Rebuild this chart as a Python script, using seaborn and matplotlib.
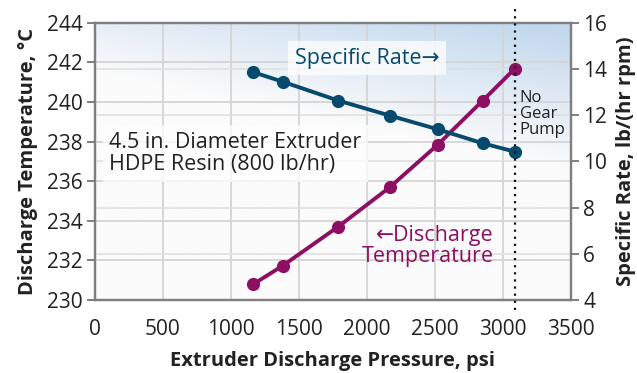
import numpy as np
import pandas as pd
import matplotlib
matplotlib.use("Agg")
import matplotlib.pyplot as plt
import seaborn as sns
from matplotlib.colors import LinearSegmentedColormap

# -----------------------------
# Data
# -----------------------------
pressure = [1164, 1380, 1790, 2169, 2520, 2853, 3087]
discharge_temp = [230.79, 231.72, 233.70, 235.69, 237.83, 240.07, 241.67]
specific_rate = [13.86, 13.45, 12.63, 11.98, 11.39, 10.78, 10.42]
no_gear_pump_x = 3087

x_ticks = [0, 500, 1000, 1500, 2000, 2500, 3000, 3500]
temp_ticks = [230, 232, 234, 236, 238, 240, 242, 244]
rate_ticks = [4, 6, 8, 10, 12, 14, 16]

df = pd.DataFrame({
    "Pressure": pressure,
    "Temperature": discharge_temp,
    "Rate": specific_rate,
})

BLUE = "#074a6e"
PURPLE = "#8c0f63"
TXT = "#222222"

sns.set_style("white")
plt.rcParams["font.family"] = ["Open Sans", "DejaVu Sans"]

fig = plt.figure(figsize=(6.37, 3.73), dpi=100)
ax = fig.add_axes([0.149, 0.196, 0.747, 0.743])
ax2 = ax.twinx()

ax.set_xlim(0, 3500)
ax.set_ylim(230, 244)
ax2.set_ylim(4, 16)

# -----------------------------
# Background gradient
# -----------------------------
gx, gy = np.meshgrid(np.linspace(0, 1, 200), np.linspace(0, 1, 200))
grad = np.clip((gy - (0.82 - 0.35 * gx)) / 0.5, 0, 1)
cmap = LinearSegmentedColormap.from_list("bg", ["#fbfbfb", "#c2d8ee"])
ax.imshow(grad, extent=[0, 1, 0, 1], transform=ax.transAxes, origin="lower",
          cmap=cmap, aspect="auto", zorder=0, interpolation="bilinear")

ax.grid(True, color="#d4d4d4", linewidth=1.3, zorder=1)
ax2.grid(True, axis="y", color="#dedede", linewidth=1.1, zorder=0.5)

# -----------------------------
# Lines (both drawn on the top axes so grids stay behind)
# -----------------------------
sns.lineplot(data=df, x="Pressure", y="Temperature", ax=ax2, color=PURPLE,
             marker="o", markersize=9.5, linewidth=2.8, markeredgewidth=0,
             transform=ax.transData, zorder=4)
sns.lineplot(data=df, x="Pressure", y="Rate", ax=ax2, color=BLUE,
             marker="o", markersize=9.5, linewidth=2.8, markeredgewidth=0,
             zorder=4)

ax.set_xlim(0, 3500)
ax2.set_ylim(4, 16)
ax.set_xticks(x_ticks)
ax.set_yticks(temp_ticks)
ax2.set_yticks(rate_ticks)

for a in (ax, ax2):
    for s in a.spines.values():
        s.set_color("#7f7f7f")
        s.set_linewidth(1.6)
    a.tick_params(length=6, width=1.4, color="#7f7f7f", labelsize=15,
                  labelcolor=TXT, pad=3)
ax.tick_params(axis="x", pad=8)

ax.set_xlabel("Extruder Discharge Pressure, psi", fontsize=14.5,
              fontweight="bold", color=TXT, labelpad=8)
ax.set_ylabel("Discharge Temperature, °C", fontsize=14.5,
              fontweight="bold", color=TXT, labelpad=6)
ax2.set_ylabel("Specific Rate, lb/(hr rpm)", fontsize=14.5,
               fontweight="bold", color=TXT, labelpad=6)

# -----------------------------
# No gear pump marker line
# -----------------------------
ax2.axvline(no_gear_pump_x, ymin=-0.036, ymax=1.064, color="#111111",
            linestyle=(0, (1, 2.2)), linewidth=1.6, clip_on=False, zorder=5)
ax2.text(3125, 239.4, "No\nGear\nPump", fontsize=12, color=TXT,
         ha="left", va="center", linespacing=1.0, zorder=6,
         transform=ax.transData)

# -----------------------------
# Annotations
# -----------------------------
box = dict(boxstyle="square,pad=0.3", facecolor="white", edgecolor="none",
           alpha=0.75)
ax2.text(2000, 242.2, "Specific Rate→", fontsize=15.5, color=BLUE,
         ha="center", va="center", bbox=box, zorder=6, transform=ax.transData)
ax2.text(105, 237.4, "4.5 in. Diameter Extruder\nHDPE Resin (800 lb/hr)",
         fontsize=15.5, color=TXT, ha="left", va="center",
         linespacing=1.1, bbox=box, zorder=6, transform=ax.transData)
ax2.text(2935, 232.7, "←Discharge\nTemperature", fontsize=15.5, color=PURPLE,
         ha="right", va="center", linespacing=1.0, zorder=6,
         transform=ax.transData)

fig.savefig("out.png", dpi=100)
